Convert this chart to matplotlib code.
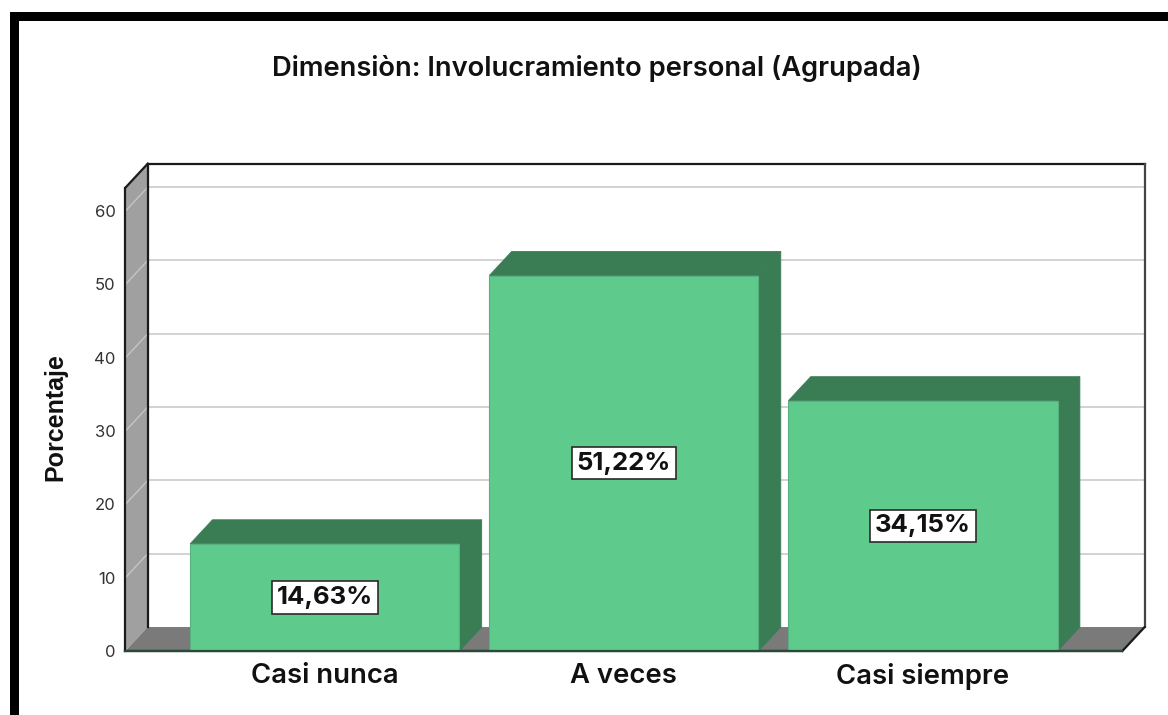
#!/usr/bin/env python3
import matplotlib
matplotlib.use('Agg')
import matplotlib.pyplot as plt
from matplotlib.patches import Polygon, Rectangle

categories = ['Casi nunca', 'A veces', 'Casi siempre']
percentages = [14.63, 51.22, 34.15]
value_labels = ['14,63%', '51,22%', '34,15%']
y_ticks = [0, 10, 20, 30, 40, 50, 60]

BAR_FRONT = '#5ecb8c'
BAR_DARK = '#3a7d55'
WALL = '#a0a0a0'
FLOOR = '#7a7a7a'
GRID = '#d2d2d2'
LINE = '#1a1a1a'

W, H = 1168, 715
BAR_WIDTH = 0.9
XMIN, XMAX = -2 / 3, 8 / 3
YMAX = 63.2
# 3d depth of the box, in data units
DX = 0.0745
DY = 3.27

plt.rcParams['font.family'] = ['Inter', 'Liberation Sans', 'DejaVu Sans']

fig = plt.figure(figsize=(W / 100, H / 100), dpi=100, facecolor='white')
ax = fig.add_axes([125.4 / W, 1 - 651 / H, 997 / W, 463.3 / H])
ax.set_xlim(XMIN, XMAX)
ax.set_ylim(0, YMAX)
ax.patch.set_visible(False)
for s in ax.spines.values():
    s.set_visible(False)


def poly(pts, fc, ec='none', lw=0, z=2):
    ax.add_patch(Polygon(pts, closed=True, facecolor=fc, edgecolor=ec, linewidth=lw,
                         zorder=z, clip_on=False, joinstyle='miter'))


def line(xs, ys, color=LINE, lw=1.6, z=3):
    ax.plot(xs, ys, color=color, linewidth=lw, zorder=z, clip_on=False, solid_capstyle='projecting')


# left wall and floor
poly([(XMIN, 0), (XMIN + DX, DY), (XMIN + DX, YMAX + DY), (XMIN, YMAX)], WALL)
poly([(XMIN, 0), (XMIN + DX, DY), (XMAX + DX, DY), (XMAX, 0)], FLOOR)

# grid lines, back wall and left wall
for t in y_ticks[1:]:
    line([XMIN + DX, XMAX + DX], [t + DY, t + DY], color=GRID, lw=1.4, z=1)
    line([XMIN, XMIN + DX], [t, t + DY], color='#c4c4c4', lw=1.0, z=2.5)

# box outline
line([XMIN, XMIN], [0, YMAX])
line([XMIN, XMIN + DX], [YMAX, YMAX + DY])
line([XMIN + DX, XMAX + DX], [YMAX + DY, YMAX + DY])
line([XMIN + DX, XMIN + DX], [DY, YMAX + DY])
line([XMAX + DX, XMAX + DX], [DY, YMAX + DY], color='#444444')
line([XMAX, XMAX + DX], [0, DY])
line([XMIN, XMAX], [0, 0], z=3)

# bars
for i, v in enumerate(percentages):
    x0 = i - BAR_WIDTH / 2
    x1 = i + BAR_WIDTH / 2
    poly([(x0, v), (x0 + DX, v + DY), (x1 + DX, v + DY), (x1, v)], BAR_DARK, BAR_DARK, 0.6, z=4)
    poly([(x1, 0), (x1 + DX, DY), (x1 + DX, v + DY), (x1, v)], BAR_DARK, BAR_DARK, 0.6, z=4)
    ax.add_patch(Rectangle((x0, 0), BAR_WIDTH, v, facecolor=BAR_FRONT, edgecolor='#58b080',
                           linewidth=0.8, zorder=5, clip_on=False))
    ax.text(i, v / 2, value_labels[i], ha='center', va='center', fontsize=18.5, fontweight='bold',
            color='#111111', zorder=7,
            bbox=dict(boxstyle='square,pad=0.18', facecolor='white', edgecolor='#2b2b2b', linewidth=1.2))

line([XMIN, XMAX], [0, 0], color='#2a4a38', lw=1.6, z=6)

ax.set_xticks(range(len(categories)))
ax.set_xticklabels(categories, fontsize=19.8, fontweight='semibold', color='#111111')
ax.set_yticks(y_ticks)
ax.set_yticklabels([str(t) for t in y_ticks], fontsize=12, color='#333333')
ax.tick_params(axis='x', length=0, pad=8.5)
ax.tick_params(axis='y', length=0, pad=7)

ax.set_ylabel('Porcentaje', fontsize=18, fontweight='bold', color='#111111', labelpad=19.5, y=0.504,
              family=['Liberation Sans', 'DejaVu Sans'])

fig.text(597 / W, 1 - 69 / H, 'Dimensiòn: Involucramiento personal (Agrupada)', ha='center', va='center',
         fontsize=19.7, fontweight='semibold', color='#111111')

# black frame at the top and left of the picture
fig.add_artist(Rectangle((10 / W, 0), 9 / W, 1 - 12 / H, transform=fig.transFigure, facecolor='black', edgecolor='none'))
fig.add_artist(Rectangle((10 / W, 1 - 21 / H), 1 - 10 / W, 9 / H, transform=fig.transFigure, facecolor='black', edgecolor='none'))

fig.savefig('out.png', dpi=100)
